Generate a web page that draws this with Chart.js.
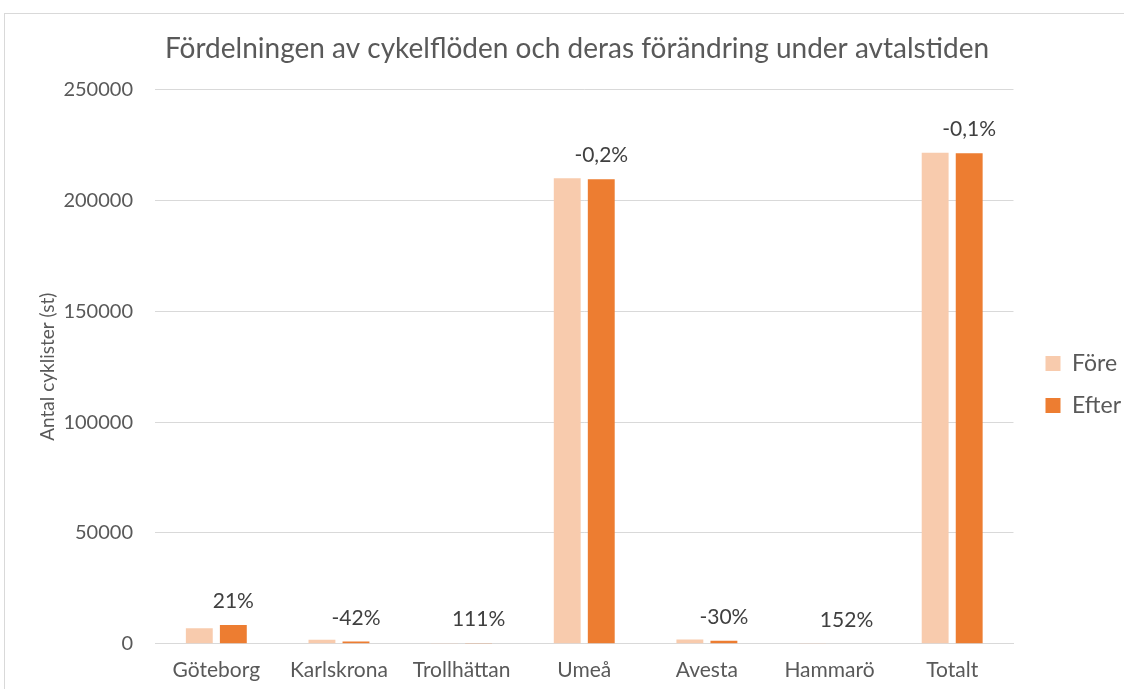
<!DOCTYPE html>
<html>
<head>
<meta charset="utf-8">
<script src="https://cdn.jsdelivr.net/npm/chart.js"></script>
<style>
  body { margin: 0; background: #fff; }
  #frame { position: absolute; left: 4px; top: 13px; width: 1130px; height: 690px; border: 1px solid #d9d9d9; }
  #wrap { position: absolute; left: 0; top: 0; width: 1124px; height: 689px; }
</style>
</head>
<body>
<div id="frame"></div>
<div id="wrap"><canvas id="chart" width="1124" height="689"></canvas></div>
<script>
  const cities = ['Göteborg', 'Karlskrona', 'Trollhättan', 'Umeå', 'Avesta', 'Hammarö', 'Totalt'];
  const fore = [7000, 1800, 150, 210000, 1900, 100, 221500];
  const efter = [8470, 1050, 320, 209600, 1330, 250, 221300];
  const changeLabels = ['21%', '-42%', '111%', '-0,2%', '-30%', '152%', '-0,1%'];
  const yTicks = [0, 50000, 100000, 150000, 200000, 250000];

  const fontFamily = 'Lato, "Open Sans", sans-serif';
  const textColor = '#595959';

  const changeLabelPlugin = {
    id: 'changeLabels',
    afterDatasetsDraw(chart) {
      const ctx = chart.ctx;
      const meta = chart.getDatasetMeta(1);
      ctx.save();
      ctx.font = '21px ' + fontFamily;
      ctx.fillStyle = '#404040';
      ctx.textAlign = 'center';
      ctx.textBaseline = 'bottom';
      meta.data.forEach((bar, i) => {
        ctx.fillText(changeLabels[i], bar.x, bar.y - 13);
      });
      ctx.restore();
    }
  };

  // nudge the legend a bit to the right, like the original
  const legendShift = {
    id: 'legendShift',
    afterLayout(chart) {
      chart.legend.left += 13;
      chart.legend.right += 13;
    }
  };

  new Chart(document.getElementById('chart'), {
    type: 'bar',
    data: {
      labels: cities,
      datasets: [
        { label: 'Före', data: fore, backgroundColor: '#F8CBAD' },
        { label: 'Efter', data: efter, backgroundColor: '#ED7D31' }
      ]
    },
    options: {
      responsive: false,
      animation: false,
      categoryPercentage: 0.555,
      barPercentage: 0.79,
      layout: { padding: { left: 36, right: 6, top: 20, bottom: 0 } },
      plugins: {
        title: {
          display: true,
          text: 'Fördelningen av cykelflöden och deras förändring under avtalstiden',
          color: textColor,
          font: { family: fontFamily, size: 28, weight: 'normal' },
          padding: { top: 12, bottom: 24 }
        },
        legend: {
          position: 'right',
          title: { display: true, text: ' ', font: { size: 20 }, padding: { top: 36, bottom: 0 } },
          labels: {
            color: textColor,
            font: { family: fontFamily, size: 23 },
            boxWidth: 15,
            boxHeight: 15,
            padding: 19
          }
        },
        tooltip: { enabled: false }
      },
      scales: {
        x: {
          grid: { display: false },
          border: { color: '#d9d9d9' },
          ticks: { color: textColor, font: { family: fontFamily, size: 21 }, padding: 6 }
        },
        y: {
          min: 0,
          max: 250000,
          afterBuildTicks(axis) { axis.ticks = yTicks.map(v => ({ value: v })); },
          afterFit(axis) { axis.width = 119; },
          grid: { color: '#d9d9d9', drawTicks: false },
          border: { display: false },
          ticks: {
            color: textColor,
            font: { family: fontFamily, size: 20 },
            padding: 22,
            callback: v => String(v)
          },
          title: {
            display: true,
            text: 'Antal cyklister (st)',
            color: textColor,
            font: { family: fontFamily, size: 19 },
            padding: { top: 0, bottom: 0 }
          }
        }
      }
    },
    plugins: [changeLabelPlugin, legendShift]
  });
</script>
</body>
</html>
